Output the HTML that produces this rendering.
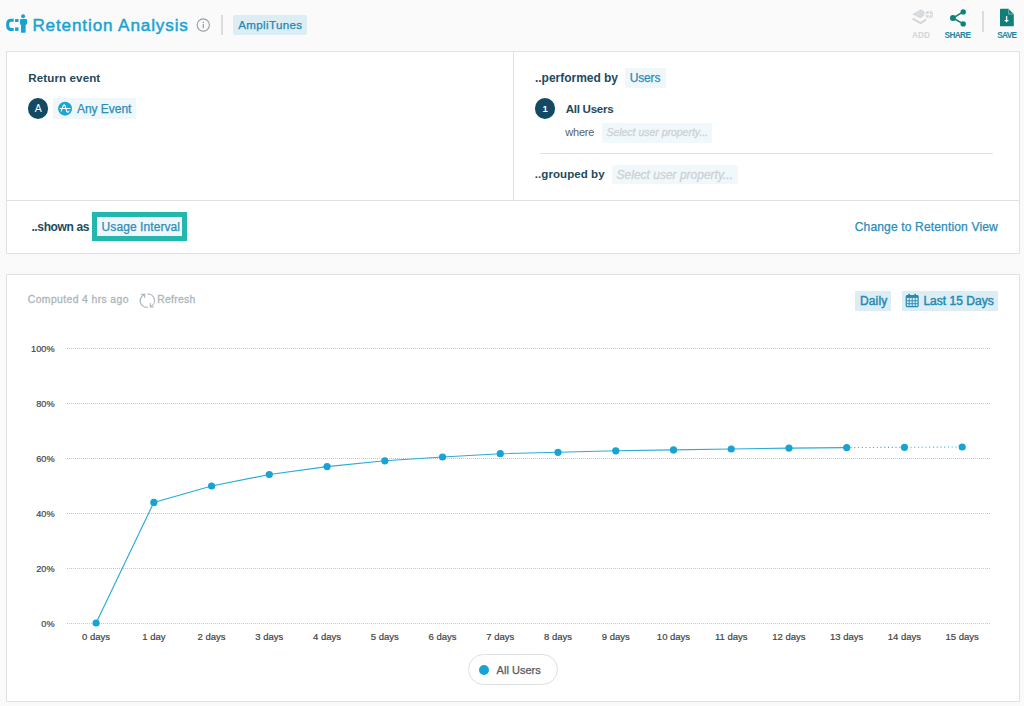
<!DOCTYPE html>
<html><head><meta charset="utf-8"><style>
html,body{margin:0;padding:0}
body{width:1024px;height:706px;overflow:hidden;background:#fafafa;position:relative;font-family:"Liberation Sans",sans-serif}
.t{position:absolute;line-height:1;white-space:nowrap}
.r{position:absolute;box-sizing:content-box}
</style></head><body>
<svg class="r" style="left:0;top:0" width="40" height="40" viewBox="0 0 40 40">
<g fill="#17a2d3">
<path d="M13.7,18.7 H10.8 A4.6,4.6 0 0 0 6.2,23.3 V26.4 A4.6,4.6 0 0 0 10.8,31 H13.7 V27.9 H11.4 A2.2,2.2 0 0 1 9.2,25.7 V24 A2.2,2.2 0 0 1 11.4,21.8 H13.7 Z"/>
<rect x="15.1" y="19" width="3.4" height="3"/>
<rect x="15.1" y="27.4" width="3.4" height="3.5"/>
<circle cx="23.1" cy="16.2" r="2"/>
<path d="M21.4,19 H25.6 C26.5,19 27.1,19.6 27.1,20.5 V23 C27.1,24 26.2,24.6 25.6,25 V32.2 C25.6,32.6 25.3,32.8 25,32.8 H21.6 C21.3,32.8 21,32.6 21,32.2 V25 C20.4,24.6 19.9,24 19.9,23 V20.5 C19.9,19.6 20.5,19 21.4,19 Z"/>
</g></svg>
<div class="t" style="left:32.40px;top:17.02px;font-size:17.1px;color:#17a2d3;font-weight:normal;font-style:normal;letter-spacing:0.874px;-webkit-text-stroke:0.45px #17a2d3">Retention Analysis</div>
<svg class="r" style="left:190px;top:12px" width="26" height="26" viewBox="190 12 26 26">
<circle cx="203.3" cy="25" r="6.1" fill="none" stroke="#959ea3" stroke-width="1.1"/>
<circle cx="203.3" cy="22.3" r="0.8" fill="#959ea3"/>
<rect x="202.7" y="23.9" width="1.2" height="4.3" fill="#959ea3"/>
</svg>
<div class="r" style="left:221.2px;top:14.5px;width:1.7px;height:20.5px;background:#d9dde0"></div>
<div class="r" style="left:233px;top:15px;width:74px;height:20px;background:#ddedf4;border-radius:2px"></div>
<div class="t" style="left:238.20px;top:19.28px;font-size:11.6px;color:#2388b2;font-weight:normal;font-style:normal;letter-spacing:0.351px;-webkit-text-stroke:0.25px #2388b2">AmpliTunes</div>
<svg class="r" style="left:905px;top:4px" width="36" height="24" viewBox="905 4 36 24">
<g fill="#d3d7da">
<path d="M912.4,14.3 L920.8,9.2 L927,13.2 L920.6,18.3 Z"/>
</g>
<path d="M912.6,18.6 L920.6,23.1 L926.2,19.3" fill="none" stroke="#d3d7da" stroke-width="2" stroke-linejoin="round"/>
<g stroke="#e6e9eb" stroke-width="0.6"><line x1="915.5" y1="12.5" x2="922.5" y2="16.8"/><line x1="918" y1="11" x2="925" y2="15.3"/><line x1="915.5" y1="16" x2="923" y2="10.5"/></g>
<circle cx="929.2" cy="14.5" r="4.4" fill="#d3d7da" stroke="#fafafa" stroke-width="1.3"/>
<g stroke="#fafafa" stroke-width="1.2"><line x1="929.2" y1="11.1" x2="929.2" y2="17.8"/><line x1="925.7" y1="14.5" x2="932.3" y2="14.5"/></g>
</svg>
<div class="t" style="left:912.00px;top:31.96px;font-size:8.2px;color:#d2d6d8;font-weight:bold;font-style:normal;letter-spacing:0.123px;">ADD</div>
<svg class="r" style="left:945px;top:4px" width="26" height="26" viewBox="945 4 26 26">
<g stroke="#0e8078" stroke-width="1.6"><line x1="953" y1="18" x2="963.2" y2="11.9"/><line x1="953" y1="18" x2="963.2" y2="23.9"/></g>
<g fill="#0e8078"><circle cx="963.2" cy="11.9" r="2.7"/><circle cx="952.9" cy="18" r="2.9"/><circle cx="963.2" cy="23.9" r="2.7"/></g>
</svg>
<div class="t" style="left:944.60px;top:31.96px;font-size:8.2px;color:#1c87a0;font-weight:bold;font-style:normal;letter-spacing:-0.600px;">SHARE</div>
<div class="r" style="left:982.1px;top:10.9px;width:1.8px;height:20.8px;background:#d9dde0"></div>
<svg class="r" style="left:995px;top:4px" width="26" height="26" viewBox="995 4 26 26">
<path d="M1000.85,8.65 H1008.5 L1013.8,14.2 V25.4 A0.85,0.85 0 0 1 1012.95,26.25 H1000.85 A0.85,0.85 0 0 1 1000,25.4 V9.5 A0.85,0.85 0 0 1 1000.85,8.65 Z" fill="#0e8078"/>
<path d="M1008.7,8.9 V14.1 H1013.6" fill="none" stroke="#8cc6c2" stroke-width="0.8"/>
<rect x="1005.95" y="16" width="1.3" height="4.6" fill="#fff"/>
<path d="M1004.2,20 H1009 L1006.6,22.5 Z" fill="#fff"/>
</svg>
<div class="t" style="left:997.20px;top:31.96px;font-size:8.2px;color:#1c87a0;font-weight:bold;font-style:normal;letter-spacing:-0.643px;">SAVE</div>
<div class="r" style="left:6px;top:51px;width:1012px;height:201px;background:#fff;border:1px solid #dfe1e2"></div>
<div class="r" style="left:513px;top:52px;width:1px;height:148px;background:#dfe1e2"></div>
<div class="r" style="left:7px;top:200px;width:1012px;height:1px;background:#dfe1e2"></div>
<div class="t" style="left:28.30px;top:72.18px;font-size:11.6px;color:#1e4a5c;font-weight:bold;font-style:normal;letter-spacing:0.097px;">Return event</div>
<div class="r" style="left:27.5px;top:98.4px;width:20.4px;height:20.4px;background:#114a62;border-radius:50%"></div>
<div class="t" style="left:34.78px;top:103.11px;font-size:10.5px;color:#ffffff;font-weight:normal;font-style:normal;letter-spacing:0.000px;">A</div>
<div class="r" style="left:53.4px;top:98.4px;width:82.6px;height:20.6px;background:#eff7fb"></div>
<svg class="r" style="left:56px;top:100px" width="18" height="18" viewBox="56 100 18 18">
<circle cx="65.06" cy="108.67" r="7" fill="#1ba5d5"/>
<path d="M60.1,108.5 H70.2 M61.3,111 C62.3,108.4 63.1,104.8 64.2,104.8 C65.4,104.8 66,110.2 66.9,111.6 C67.4,112.4 68.4,112.3 68.9,111.1" fill="none" stroke="#fff" stroke-width="1.15" stroke-linecap="round"/>
</svg>
<div class="t" style="left:77.00px;top:102.84px;font-size:12px;color:#2a8db8;font-weight:normal;font-style:normal;letter-spacing:-0.040px;-webkit-text-stroke:0.25px #2a8db8">Any Event</div>
<div class="t" style="left:535.00px;top:72.34px;font-size:12px;color:#1e4a5c;font-weight:bold;font-style:normal;letter-spacing:-0.026px;">..performed by</div>
<div class="r" style="left:624.6px;top:68px;width:41px;height:19.6px;background:#eff7fb"></div>
<div class="t" style="left:629.70px;top:72.04px;font-size:12px;color:#2a8db8;font-weight:normal;font-style:normal;letter-spacing:-0.155px;-webkit-text-stroke:0.25px #2a8db8">Users</div>
<div class="r" style="left:534.7px;top:98.4px;width:20.4px;height:20.4px;background:#114a62;border-radius:50%"></div>
<div class="t" style="left:542.56px;top:103.96px;font-size:9.5px;color:#ffffff;font-weight:bold;font-style:normal;letter-spacing:0.000px;">1</div>
<div class="t" style="left:565.70px;top:103.18px;font-size:11.6px;color:#1e4a5c;font-weight:bold;font-style:normal;letter-spacing:-0.286px;">All Users</div>
<div class="t" style="left:565.35px;top:126.69px;font-size:11px;color:#586166;font-weight:normal;font-style:normal;letter-spacing:-0.258px;">where</div>
<div class="r" style="left:601.7px;top:122.8px;width:110.2px;height:19.8px;background:#f1f8fb;border-radius:2px"></div>
<div class="t" style="left:606.40px;top:127.11px;font-size:10.5px;color:#cdd2d4;font-weight:normal;font-style:italic;letter-spacing:-0.016px;-webkit-text-stroke:0.3px #cdd2d4">Select user property...</div>
<div class="r" style="left:540px;top:153px;width:453px;height:1px;background:#e1e4e6"></div>
<div class="t" style="left:534.80px;top:168.87px;font-size:11.5px;color:#1e4a5c;font-weight:bold;font-style:normal;letter-spacing:0.073px;">..grouped by</div>
<div class="r" style="left:612px;top:164.7px;width:125.7px;height:19.8px;background:#f1f8fb;border-radius:2px"></div>
<div class="t" style="left:616.60px;top:168.84px;font-size:12px;color:#cdd2d4;font-weight:normal;font-style:italic;letter-spacing:-0.005px;-webkit-text-stroke:0.3px #cdd2d4">Select user property...</div>
<div class="t" style="left:31.40px;top:221.14px;font-size:12px;color:#1e4a5c;font-weight:bold;font-style:normal;letter-spacing:-0.369px;">..shown as</div>
<div class="r" style="left:92.4px;top:211.6px;width:84.6px;height:19.3px;background:#eff7fb;border:5.3px solid #24b7af"></div>
<div class="t" style="left:101.60px;top:220.64px;font-size:12px;color:#2a8db8;font-weight:normal;font-style:normal;letter-spacing:0.077px;-webkit-text-stroke:0.25px #2a8db8">Usage Interval</div>
<div class="t" style="left:854.70px;top:221.36px;font-size:12.1px;color:#2a8db8;font-weight:normal;font-style:normal;letter-spacing:0.121px;-webkit-text-stroke:0.25px #2a8db8">Change to Retention View</div>
<div class="r" style="left:6px;top:274px;width:1012px;height:426px;background:#fff;border:1px solid #dfe1e2"></div>
<div class="t" style="left:27.80px;top:295.20px;font-size:10.4px;color:#afb8bd;font-weight:normal;font-style:normal;letter-spacing:0.381px;-webkit-text-stroke:0.3px #aab3b8">Computed 4 hrs ago</div>
<svg class="r" style="left:136px;top:290px" width="22" height="22" viewBox="136 290 22 22">
<g fill="none" stroke="#b0b8bd" stroke-width="1.25">
<path d="M144.7,294.6 A6.5,6.5 0 0 0 147.8,307.2"/>
<path d="M147.3,294.1 A6.5,6.5 0 0 1 150.4,306.6"/>
<path d="M141,294.4 H144.7 V297.8"/>
<path d="M150.4,303.2 V306.8 H153.6"/>
</g></svg>
<div class="t" style="left:157.30px;top:295.20px;font-size:10.4px;color:#afb8bd;font-weight:normal;font-style:normal;letter-spacing:0.267px;-webkit-text-stroke:0.3px #aab3b8">Refresh</div>
<div class="r" style="left:855px;top:290.5px;width:36px;height:20.3px;background:#ddedf4;border-radius:1px"></div>
<div class="t" style="left:860.00px;top:295.04px;font-size:12px;color:#238ab5;font-weight:normal;font-style:normal;letter-spacing:0.125px;-webkit-text-stroke:0.45px #238ab5">Daily</div>
<div class="r" style="left:901.6px;top:290.5px;width:96.4px;height:20.3px;background:#ddedf4;border-radius:1px"></div>
<svg class="r" style="left:904px;top:292px" width="18" height="18" viewBox="904 292 18 18">
<rect x="906.3" y="295.5" width="11.8" height="11.2" rx="1" fill="none" stroke="#238ab5" stroke-width="1.2"/>
<rect x="906.3" y="295.5" width="11.8" height="2.4" fill="#238ab5"/>
<g stroke="#238ab5" stroke-width="0.9"><line x1="909.2" y1="298" x2="909.2" y2="306.5"/><line x1="912.2" y1="298" x2="912.2" y2="306.5"/><line x1="915.2" y1="298" x2="915.2" y2="306.5"/>
<line x1="906.5" y1="300.8" x2="918" y2="300.8"/><line x1="906.5" y1="303.7" x2="918" y2="303.7"/></g>
<g fill="#238ab5"><rect x="908.4" y="293.8" width="1.6" height="3"/><rect x="914.4" y="293.8" width="1.6" height="3"/></g>
</svg>
<div class="t" style="left:923.40px;top:295.04px;font-size:12px;color:#238ab5;font-weight:normal;font-style:normal;letter-spacing:0.025px;-webkit-text-stroke:0.45px #238ab5">Last 15 Days</div>
<svg class="r" style="left:0;top:0" width="1024" height="706" viewBox="0 0 1024 706">
<line x1="67" y1="348.5" x2="990" y2="348.5" stroke="#c4c8ca" stroke-width="1" stroke-dasharray="1 1"/>
<line x1="67" y1="403.5" x2="990" y2="403.5" stroke="#c4c8ca" stroke-width="1" stroke-dasharray="1 1"/>
<line x1="67" y1="458.5" x2="990" y2="458.5" stroke="#c4c8ca" stroke-width="1" stroke-dasharray="1 1"/>
<line x1="67" y1="513.5" x2="990" y2="513.5" stroke="#c4c8ca" stroke-width="1" stroke-dasharray="1 1"/>
<line x1="67" y1="568.5" x2="990" y2="568.5" stroke="#c4c8ca" stroke-width="1" stroke-dasharray="1 1"/>
<line x1="67" y1="623.5" x2="990" y2="623.5" stroke="#c4c8ca" stroke-width="1" stroke-dasharray="1 1"/>
<polyline points="96.10,623.00 153.84,502.40 211.58,486.00 269.32,474.50 327.06,466.60 384.80,460.80 442.54,457.00 500.28,453.70 558.02,452.30 615.76,450.80 673.50,449.90 731.24,449.00 788.98,448.10 846.72,447.60" fill="none" stroke="#2aabd8" stroke-width="1.15"/>
<polyline points="846.72,447.60 904.46,447.30 962.20,447.00" fill="none" stroke="#35b0dc" stroke-width="1.1" stroke-dasharray="1.1 2.65"/>
<circle cx="96.10" cy="623.00" r="3.6" fill="#17a3d4"/>
<circle cx="153.84" cy="502.40" r="3.6" fill="#17a3d4"/>
<circle cx="211.58" cy="486.00" r="3.6" fill="#17a3d4"/>
<circle cx="269.32" cy="474.50" r="3.6" fill="#17a3d4"/>
<circle cx="327.06" cy="466.60" r="3.6" fill="#17a3d4"/>
<circle cx="384.80" cy="460.80" r="3.6" fill="#17a3d4"/>
<circle cx="442.54" cy="457.00" r="3.6" fill="#17a3d4"/>
<circle cx="500.28" cy="453.70" r="3.6" fill="#17a3d4"/>
<circle cx="558.02" cy="452.30" r="3.6" fill="#17a3d4"/>
<circle cx="615.76" cy="450.80" r="3.6" fill="#17a3d4"/>
<circle cx="673.50" cy="449.90" r="3.6" fill="#17a3d4"/>
<circle cx="731.24" cy="449.00" r="3.6" fill="#17a3d4"/>
<circle cx="788.98" cy="448.10" r="3.6" fill="#17a3d4"/>
<circle cx="846.72" cy="447.60" r="3.6" fill="#17a3d4"/>
<circle cx="904.46" cy="447.30" r="3.6" fill="#17a3d4"/>
<circle cx="962.20" cy="447.00" r="3.6" fill="#17a3d4"/>
</svg>
<div class="t" style="left:31.05px;top:344.61px;font-size:9.2px;color:#3f4447;font-weight:normal;font-style:normal;letter-spacing:0.000px;-webkit-text-stroke:0.2px #3f4447">100%</div>
<div class="t" style="left:36.20px;top:399.61px;font-size:9.2px;color:#3f4447;font-weight:normal;font-style:normal;letter-spacing:0.000px;-webkit-text-stroke:0.2px #3f4447">80%</div>
<div class="t" style="left:36.20px;top:454.61px;font-size:9.2px;color:#3f4447;font-weight:normal;font-style:normal;letter-spacing:0.000px;-webkit-text-stroke:0.2px #3f4447">60%</div>
<div class="t" style="left:36.20px;top:509.61px;font-size:9.2px;color:#3f4447;font-weight:normal;font-style:normal;letter-spacing:0.000px;-webkit-text-stroke:0.2px #3f4447">40%</div>
<div class="t" style="left:36.20px;top:564.61px;font-size:9.2px;color:#3f4447;font-weight:normal;font-style:normal;letter-spacing:0.000px;-webkit-text-stroke:0.2px #3f4447">20%</div>
<div class="t" style="left:41.31px;top:619.61px;font-size:9.2px;color:#3f4447;font-weight:normal;font-style:normal;letter-spacing:0.000px;-webkit-text-stroke:0.2px #3f4447">0%</div>
<div class="t" style="left:82.11px;top:631.96px;font-size:9.5px;color:#3f4447;font-weight:normal;font-style:normal;letter-spacing:0.000px;-webkit-text-stroke:0.2px #3f4447">0 days</div>
<div class="t" style="left:142.23px;top:631.96px;font-size:9.5px;color:#3f4447;font-weight:normal;font-style:normal;letter-spacing:0.000px;-webkit-text-stroke:0.2px #3f4447">1 day</div>
<div class="t" style="left:197.59px;top:631.96px;font-size:9.5px;color:#3f4447;font-weight:normal;font-style:normal;letter-spacing:0.000px;-webkit-text-stroke:0.2px #3f4447">2 days</div>
<div class="t" style="left:255.33px;top:631.96px;font-size:9.5px;color:#3f4447;font-weight:normal;font-style:normal;letter-spacing:0.000px;-webkit-text-stroke:0.2px #3f4447">3 days</div>
<div class="t" style="left:313.07px;top:631.96px;font-size:9.5px;color:#3f4447;font-weight:normal;font-style:normal;letter-spacing:0.000px;-webkit-text-stroke:0.2px #3f4447">4 days</div>
<div class="t" style="left:370.81px;top:631.96px;font-size:9.5px;color:#3f4447;font-weight:normal;font-style:normal;letter-spacing:0.000px;-webkit-text-stroke:0.2px #3f4447">5 days</div>
<div class="t" style="left:428.55px;top:631.96px;font-size:9.5px;color:#3f4447;font-weight:normal;font-style:normal;letter-spacing:0.000px;-webkit-text-stroke:0.2px #3f4447">6 days</div>
<div class="t" style="left:486.29px;top:631.96px;font-size:9.5px;color:#3f4447;font-weight:normal;font-style:normal;letter-spacing:0.000px;-webkit-text-stroke:0.2px #3f4447">7 days</div>
<div class="t" style="left:544.03px;top:631.96px;font-size:9.5px;color:#3f4447;font-weight:normal;font-style:normal;letter-spacing:0.000px;-webkit-text-stroke:0.2px #3f4447">8 days</div>
<div class="t" style="left:601.77px;top:631.96px;font-size:9.5px;color:#3f4447;font-weight:normal;font-style:normal;letter-spacing:0.000px;-webkit-text-stroke:0.2px #3f4447">9 days</div>
<div class="t" style="left:656.85px;top:631.96px;font-size:9.5px;color:#3f4447;font-weight:normal;font-style:normal;letter-spacing:0.000px;-webkit-text-stroke:0.2px #3f4447">10 days</div>
<div class="t" style="left:714.95px;top:631.96px;font-size:9.5px;color:#3f4447;font-weight:normal;font-style:normal;letter-spacing:0.000px;-webkit-text-stroke:0.2px #3f4447">11 days</div>
<div class="t" style="left:772.33px;top:631.96px;font-size:9.5px;color:#3f4447;font-weight:normal;font-style:normal;letter-spacing:0.000px;-webkit-text-stroke:0.2px #3f4447">12 days</div>
<div class="t" style="left:830.07px;top:631.96px;font-size:9.5px;color:#3f4447;font-weight:normal;font-style:normal;letter-spacing:0.000px;-webkit-text-stroke:0.2px #3f4447">13 days</div>
<div class="t" style="left:887.81px;top:631.96px;font-size:9.5px;color:#3f4447;font-weight:normal;font-style:normal;letter-spacing:0.000px;-webkit-text-stroke:0.2px #3f4447">14 days</div>
<div class="t" style="left:945.55px;top:631.96px;font-size:9.5px;color:#3f4447;font-weight:normal;font-style:normal;letter-spacing:0.000px;-webkit-text-stroke:0.2px #3f4447">15 days</div>
<div class="r" style="left:468px;top:654.4px;width:87.5px;height:29px;border:1px solid #dcdfe1;border-radius:16px;background:#fff"></div>
<div class="r" style="left:478.8px;top:664.5px;width:10.4px;height:10.4px;background:#17a3d4;border-radius:50%"></div>
<div class="t" style="left:496.60px;top:664.89px;font-size:11px;color:#53595d;font-weight:normal;font-style:normal;letter-spacing:0.025px;-webkit-text-stroke:0.25px #53595d">All Users</div>
</body></html>
